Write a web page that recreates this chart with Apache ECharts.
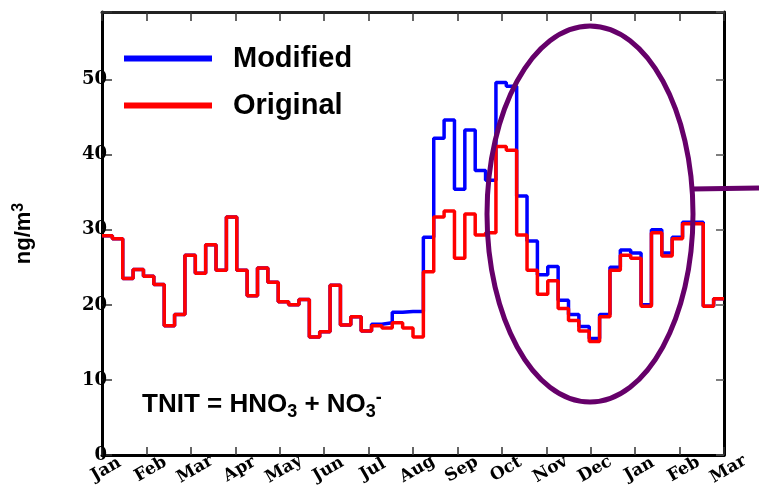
<!DOCTYPE html>
<html>
<head>
<meta charset="utf-8">
<script src="https://cdn.jsdelivr.net/npm/echarts@6/dist/echarts.min.js"></script>
<style>
  html, body { margin: 0; padding: 0; background: #fff; }
  #main { width: 759px; height: 498px; }
</style>
</head>
<body>
<div id="main"></div>
<script>
// month tick labels (Jan .. Mar of the following year)
var months = ['Jan', 'Feb', 'Mar', 'Apr', 'May', 'Jun', 'Jul', 'Aug', 'Sep', 'Oct', 'Nov', 'Dec', 'Jan', 'Feb', 'Mar'];

// weekly TNIT, ng/m3
var original = [29.2, 28.8, 23.5, 24.7, 23.8, 22.7, 17.2, 18.7, 26.6, 24.2,
    28.0, 24.6, 31.7, 24.6, 21.2, 24.9, 23.0, 20.4, 20.0, 20.7,
    15.7, 16.4, 22.6, 17.3, 18.4, 16.5, 17.2, 16.9, 17.6, 16.9,
    15.7, 24.4, 31.7, 32.5, 26.2, 32.1, 29.3, 29.6, 41.1, 40.6,
    29.3, 24.6, 21.4, 23.2, 19.5, 17.9, 16.5, 15.1, 18.4, 24.6,
    26.6, 26.2, 19.8, 29.6, 26.5, 28.8, 30.8, 30.8, 19.8, 20.8];

var modified = [29.2, 28.8, 23.5, 24.7, 23.8, 22.7, 17.2, 18.7, 26.6, 24.2,
    28.0, 24.6, 31.7, 24.6, 21.2, 24.9, 23.0, 20.4, 20.0, 20.7,
    15.7, 16.4, 22.6, 17.3, 18.4, 16.5, 17.4, 17.6, 19.0, 19.1,
    19.1, 29.0, 42.2, 44.6, 35.4, 43.3, 37.9, 36.6, 49.6, 49.1,
    34.5, 28.5, 24.0, 25.1, 20.6, 18.7, 17.1, 15.5, 18.7, 25.0,
    27.3, 26.9, 20.0, 30.0, 26.9, 29.0, 31.0, 31.0, 19.8, 20.8];

var WEEK = 14 / 60; // months per weekly step

function stepPoints(values) {
    var pts = [];
    for (var i = 0; i < values.length; ++i) {
        pts.push([i * WEEK, values[i]]);
    }
    pts.push([values.length * WEEK, values[values.length - 1]]);
    return pts;
}

var myChart = echarts.init(document.getElementById('main'));

var tickFont = {
    fontFamily: 'DejaVu Serif',
    fontWeight: 'bold',
    color: '#000'
};

var option = {
    animation: false,
    grid: {
        left: 102,
        right: 35,
        top: 12,
        bottom: 43,
        containLabel: false,
        outerBoundsMode: 'none'
    },
    legend: {
        orient: 'vertical',
        left: 124,
        top: 44,
        padding: 0,
        itemGap: 18,
        icon: 'rect',
        itemWidth: 88,
        itemHeight: 6,
        data: ['Modified', 'Original'],
        textStyle: {
            fontFamily: 'Liberation Sans',
            fontWeight: 'bold',
            fontSize: 29,
            lineHeight: 28,
            color: '#000',
            padding: [0, 0, 0, 16]
        }
    },
    xAxis: [{
        type: 'value',
        min: 0,
        max: 14,
        interval: 1,
        splitLine: { show: false },
        axisLine: { onZero: false, lineStyle: { color: '#000', width: 3 } },
        axisTick: { inside: true, length: 8, lineStyle: { color: '#333', width: 1.5 } },
        axisLabel: Object.assign({
            fontSize: 17,
            rotate: 30,
            align: 'center',
            verticalAlign: 'top',
            margin: 7,
            formatter: function (v) { return months[Math.round(v)]; }
        }, tickFont)
    }, {
        type: 'value',
        position: 'top',
        min: 0,
        max: 14,
        interval: 1,
        splitLine: { show: false },
        axisLine: { onZero: false, lineStyle: { color: '#222', width: 3 } },
        axisTick: { inside: true, length: 9, lineStyle: { color: '#333', width: 1.5 } },
        axisLabel: { show: false }
    }],
    yAxis: [{
        type: 'value',
        min: 0,
        max: 59,
        interval: 10,
        splitLine: { show: false },
        axisLine: { show: true, onZero: false, lineStyle: { color: '#000', width: 3 } },
        axisTick: { show: true, inside: true, length: 10, lineStyle: { color: '#333', width: 1.5 } },
        axisLabel: Object.assign({
            fontSize: 18,
            margin: -5,
            formatter: function (v) { return v % 10 === 0 ? String(v) : ''; }
        }, tickFont),
        name: 'ng/m{sup|3}',
        nameLocation: 'middle',
        nameRotate: 90,
        nameGap: 65,
        nameTextStyle: {
            fontFamily: 'Liberation Sans',
            fontWeight: 'bold',
            fontSize: 22,
            color: '#000',
            rich: {
                sup: {
                    fontFamily: 'Liberation Sans',
                    fontWeight: 'bold',
                    fontSize: 16,
                    verticalAlign: 'top',
                    padding: [0, 0, 10, 0]
                }
            }
        }
    }, {
        type: 'value',
        position: 'right',
        min: 0,
        max: 59,
        interval: 10,
        splitLine: { show: false },
        axisLine: { show: true, onZero: false, lineStyle: { color: '#000', width: 3 } },
        axisTick: { show: true, inside: true, length: 8, lineStyle: { color: '#555', width: 1.5 } },
        axisLabel: { show: false }
    }],
    series: [{
        name: 'Modified',
        type: 'line',
        step: 'end',
        showSymbol: false,
        data: stepPoints(modified),
        color: '#0000ff',
        lineStyle: { color: '#0000ff', width: 3.5 },
        z: 2
    }, {
        name: 'Original',
        type: 'line',
        step: 'end',
        showSymbol: false,
        data: stepPoints(original),
        color: '#ff0000',
        lineStyle: { color: '#ff0000', width: 3.5 },
        z: 3
    }],
    graphic: [{
        type: 'ellipse',
        shape: { cx: 590, cy: 214, rx: 103, ry: 188 },
        style: { fill: null, stroke: '#66006a', lineWidth: 5 },
        z: 100
    }, {
        type: 'line',
        shape: { x1: 692, y1: 189, x2: 759, y2: 188 },
        style: { stroke: '#66006a', lineWidth: 5 },
        z: 100
    }, {
        type: 'text',
        left: 142,
        top: 389,
        style: {
            text: 'TNIT = HNO{sub|3} + NO{sub|3}{sup|-}',
            fontFamily: 'Liberation Sans',
            fontWeight: 'bold',
            fontSize: 26,
            fill: '#000',
            rich: {
                sub: {
                    fontFamily: 'Liberation Sans',
                    fontWeight: 'bold',
                    fontSize: 18,
                    padding: [14, 0, 0, 0]
                },
                sup: {
                    fontFamily: 'Liberation Sans',
                    fontWeight: 'bold',
                    fontSize: 18,
                    padding: [0, 0, 14, 0]
                }
            }
        },
        z: 100
    }]
};

myChart.setOption(option);
</script>
</body>
</html>
